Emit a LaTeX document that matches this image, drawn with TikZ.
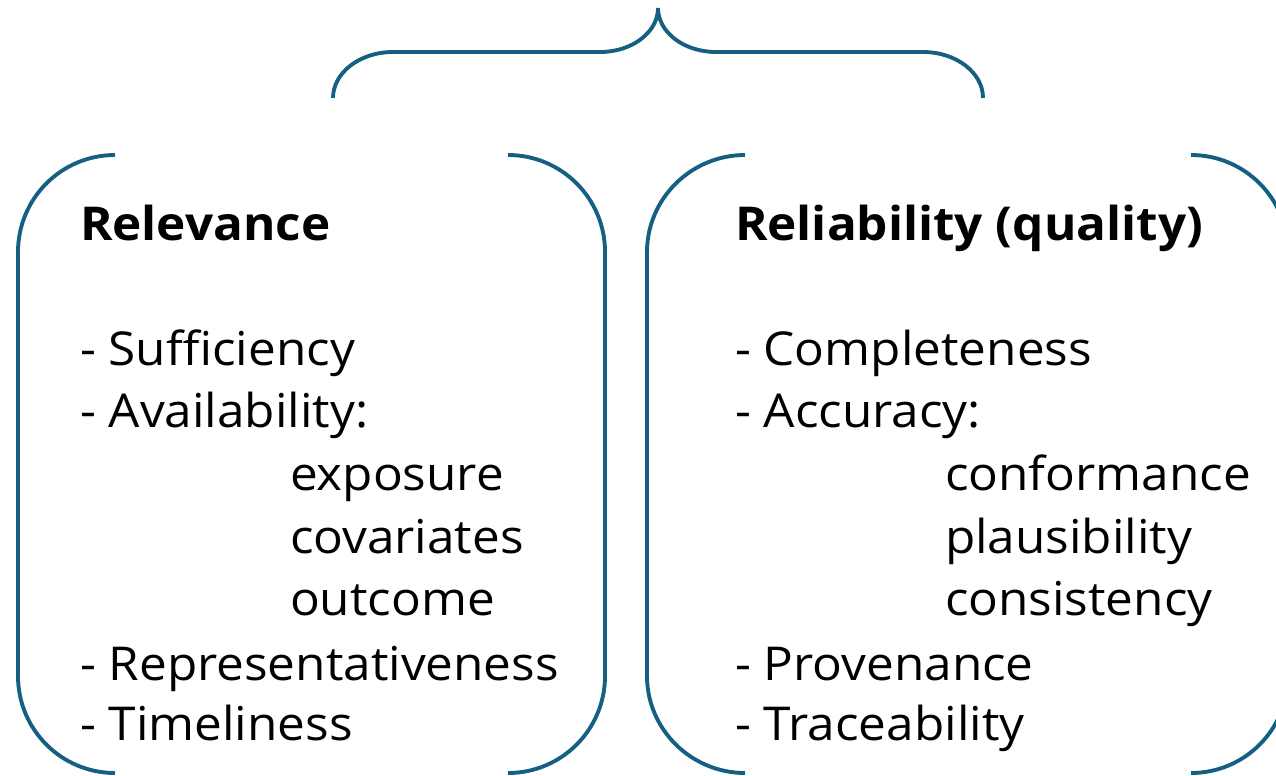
\documentclass[tikz,border=0pt]{standalone}
\usepackage{fontspec}
\setmainfont[FakeStretch=1.06]{Open Sans}
\definecolor{accent}{RGB}{21,96,130}
\begin{document}
\begin{tikzpicture}[x=0.75pt,y=-0.75pt,
  frame/.style={draw=accent,line width=2.9pt},
  txt/.style={anchor=base west,inner sep=0pt,outer sep=0pt,font=\fontsize{35}{42}\selectfont},
  head/.style={anchor=base west,inner sep=0pt,outer sep=0pt,font=\fontsize{35}{42}\selectfont\bfseries}]
\useasboundingbox (0,0) rectangle (1276,775);
\clip (0,0) rectangle (1276,775);
% top brace
\draw[frame] (333,98) .. controls (333,72.6) and (359.9,52) .. (393,52) -- (600,52) .. controls (632,52) and (658,32.3) .. (658,8);
\draw[frame] (983,98) .. controls (983,72.6) and (956.1,52) .. (923,52) -- (716,52) .. controls (684,52) and (658,32.3) .. (658,8);
% left box brackets
\draw[frame] (115,155) .. controls (61.4,155) and (18,198.4) .. (18,252) -- (18,676) .. controls (18,729.6) and (61.4,773) .. (115,773);
\draw[frame] (508,155) .. controls (561.6,155) and (605,198.4) .. (605,252) -- (605,676) .. controls (605,729.6) and (561.6,773) .. (508,773);
% right box brackets
\draw[frame] (745,155) .. controls (691.4,155) and (647,198.4) .. (647,252) -- (647,676) .. controls (647,729.6) and (691.4,773) .. (745,773);
\draw[frame] (1191,155) .. controls (1244.6,155) and (1288,198.4) .. (1288,252) -- (1288,676) .. controls (1288,729.6) and (1244.6,773) .. (1191,773);
% left texts
\node[head] (relh) at (80,240) {Relevance};
\node[txt] (l1) at (80,365) {- Sufficiency};
\node[txt] (l2) at (80,427) {- Availability:};
\node[txt] (l3) at (290,490) {exposure};
\node[txt] (l4) at (290,553) {covariates};
\node[txt] (l5) at (290,615) {outcome};
\node[txt] (l6) at (80,680) {- Representativeness};
\node[txt] (l7) at (80,740) {- Timeliness};
% right texts
\node[head] (relih) at (735,240) {Reliability (quality)};
\node[txt] (r1) at (735,365) {- Completeness};
\node[txt] (r2) at (735,427) {- Accuracy:};
\node[txt] (r3) at (945,490) {conformance};
\node[txt] (r4) at (945,553) {plausibility};
\node[txt] (r5) at (945,615) {consistency};
\node[txt] (r6) at (735,680) {- Provenance};
\node[txt] (r7) at (735,740) {- Traceability};
\end{tikzpicture}
\end{document}
